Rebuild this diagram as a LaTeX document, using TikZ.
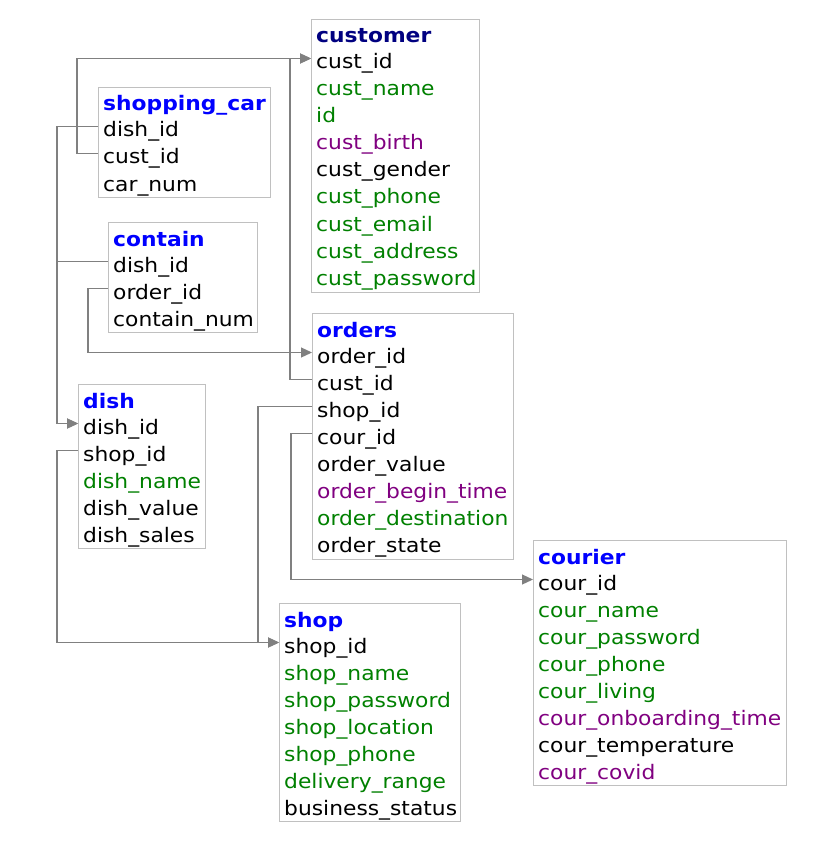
\documentclass[tikz,border=0pt]{standalone}
\usepackage{fontspec}
\setmainfont{DejaVu Sans}[FakeStretch=1.09]
\usetikzlibrary{arrows.meta}
\definecolor{keygreen}{HTML}{008000}
\definecolor{keypurple}{HTML}{800080}
\definecolor{titleblue}{HTML}{0000FF}
\definecolor{titlenavy}{HTML}{000080}
\definecolor{framegray}{HTML}{C0C0C0}
\definecolor{linkgray}{HTML}{808080}
\tikzset{
  tablebox/.style={draw=framegray, line width=1pt, anchor=north west, inner sep=0pt},
  field/.style={anchor=base west, inner sep=0pt, text height=21pt, text depth=0pt,
    font=\fontsize{20}{24}\selectfont},
  title/.style={field, font=\fontsize{20}{24}\selectfont\bfseries, text=titleblue, yshift=-1pt},
  plain/.style={field, text=black},
  green/.style={field, text=keygreen},
  purple/.style={field, text=keypurple},
  link/.style={draw=linkgray, line width=1.2pt},
  linkarrow/.style={link, -{Triangle[length=11pt,width=10pt]}},
}
\begin{document}
\begin{tikzpicture}[x=1pt,y=-1pt]
\useasboundingbox (0,0) rectangle (833,853);

% customer
\node[tablebox, minimum width=168pt, minimum height=273pt] (customer) at (311,19) {};
\node[title, text=titlenavy] (cu-title) at (316,42) {customer};
\node[plain]  (cu-custid)   at (316,69)  {cust\_id};
\node[green]  (cu-name)     at (316,96)  {cust\_name};
\node[green]  (cu-id)       at (316,123) {id};
\node[purple] (cu-birth)    at (316,150) {cust\_birth};
\node[plain]  (cu-gender)   at (316,177) {cust\_gender};
\node[green]  (cu-phone)    at (316,204) {cust\_phone};
\node[green]  (cu-email)    at (316,231) {cust\_email};
\node[green]  (cu-address)  at (316,258) {cust\_address};
\node[green]  (cu-password) at (316,285) {cust\_password};

% shopping_car
\node[tablebox, minimum width=172pt, minimum height=110pt] (shopcar) at (98,87) {};
\node[title] (sc-title)  at (103,110) {shopping\_car};
\node[plain] (sc-dishid) at (103,137) {dish\_id};
\node[plain] (sc-custid) at (103,164) {cust\_id};
\node[plain] (sc-carnum) at (103,191) {car\_num};

% contain
\node[tablebox, minimum width=149pt, minimum height=110pt] (contain) at (108,222) {};
\node[title] (co-title)   at (113,245) {contain};
\node[plain] (co-dishid)  at (113,272) {dish\_id};
\node[plain] (co-orderid) at (113,299) {order\_id};
\node[plain] (co-num)     at (113,326) {contain\_num};

% orders
\node[tablebox, minimum width=201pt, minimum height=246pt] (orders) at (312,313) {};
\node[title]  (or-title)   at (317,336) {orders};
\node[plain]  (or-orderid) at (317,363) {order\_id};
\node[plain]  (or-custid)  at (317,390) {cust\_id};
\node[plain]  (or-shopid)  at (317,417) {shop\_id};
\node[plain]  (or-courid)  at (317,444) {cour\_id};
\node[plain]  (or-value)   at (317,471) {order\_value};
\node[purple] (or-begin)   at (317,498) {order\_begin\_time};
\node[green]  (or-dest)    at (317,525) {order\_destination};
\node[plain]  (or-state)   at (317,552) {order\_state};

% dish
\node[tablebox, minimum width=127pt, minimum height=164pt] (dish) at (78,384) {};
\node[title] (di-title)  at (83,407) {dish};
\node[plain] (di-dishid) at (83,434) {dish\_id};
\node[plain] (di-shopid) at (83,461) {shop\_id};
\node[green] (di-name)   at (83,488) {dish\_name};
\node[plain] (di-value)  at (83,515) {dish\_value};
\node[plain] (di-sales)  at (83,542) {dish\_sales};

% courier
\node[tablebox, minimum width=253pt, minimum height=245pt] (courier) at (533,540) {};
\node[title]  (cr-title)    at (538,563) {courier};
\node[plain]  (cr-courid)   at (538,590) {cour\_id};
\node[green]  (cr-name)     at (538,617) {cour\_name};
\node[green]  (cr-password) at (538,644) {cour\_password};
\node[green]  (cr-phone)    at (538,671) {cour\_phone};
\node[green]  (cr-living)   at (538,698) {cour\_living};
\node[purple] (cr-onboard)  at (538,725) {cour\_onboarding\_time};
\node[plain]  (cr-temp)     at (538,752) {cour\_temperature};
\node[purple] (cr-covid)    at (538,779) {cour\_covid};

% shop
\node[tablebox, minimum width=181pt, minimum height=218pt] (shop) at (279,603) {};
\node[title] (sh-title)    at (284,626) {shop};
\node[plain] (sh-shopid)   at (284,653) {shop\_id};
\node[green] (sh-name)     at (284,680) {shop\_name};
\node[green] (sh-password) at (284,707) {shop\_password};
\node[green] (sh-location) at (284,734) {shop\_location};
\node[green] (sh-phone)    at (284,761) {shop\_phone};
\node[green] (sh-range)    at (284,788) {delivery\_range};
\node[plain] (sh-status)   at (284,815) {business\_status};

% foreign keys
\draw[linkarrow] (sc-custid.west -| shopcar.west) -- ++(-21,0) |- (cu-custid.west -| customer.west);
\draw[linkarrow] (or-custid.west -| orders.west) -- ++(-22,0) |- (cu-custid.west -| customer.west);
\draw[linkarrow] (sc-dishid.west -| shopcar.west) -- ++(-41,0) |- (di-dishid.west -| dish.west);
\draw[linkarrow] (co-dishid.west -| contain.west) -- ++(-51,0) |- (di-dishid.west -| dish.west);
\draw[linkarrow] (co-orderid.west -| contain.west) -- ++(-20,0) |- (or-orderid.west -| orders.west);
\draw[linkarrow] (di-shopid.west -| dish.west) -- ++(-21,0) |- (sh-shopid.west -| shop.west);
\draw[linkarrow] (or-shopid.west -| orders.west) -- ++(-54,0) |- (sh-shopid.west -| shop.west);
\draw[linkarrow] (or-courid.west -| orders.west) -- ++(-21,0) |- (cr-courid.west -| courier.west);
\end{tikzpicture}
\end{document}
